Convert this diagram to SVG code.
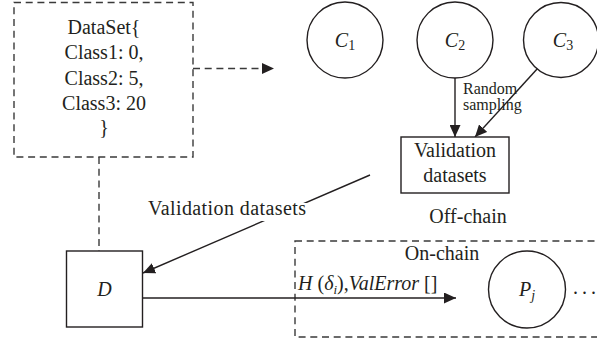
<svg xmlns="http://www.w3.org/2000/svg" width="597" height="347" viewBox="0 0 597 347">
<style>
text{font-family:"Liberation Serif","Times New Roman",serif;fill:#231f20;}
.t{font-size:20px;}
.s{font-size:16px;}
.i{font-style:italic;}
.dash{fill:none;stroke:#3a3a3a;stroke-width:1.4;stroke-dasharray:7 4.7;}
.box{fill:#fff;stroke:#231f20;stroke-width:1.4;}
.ln{fill:none;stroke:#231f20;stroke-width:1.4;}
</style>
<defs>
<marker id="ah" viewBox="0 0 12 11" refX="12" refY="5.5" markerWidth="12" markerHeight="11" markerUnits="userSpaceOnUse" orient="auto">
<path d="M0,0 L12,5.5 L0,11 Z" fill="#231f20"/>
</marker>
</defs>
<g id="onchain">
<rect class="dash" x="295" y="241" width="320" height="96"/>
<text class="t" x="442" y="260" text-anchor="middle">On-chain</text>
</g>
<g id="offchain-label">
<text class="t" x="468" y="223" text-anchor="middle">Off-chain</text>
</g>
<g id="connectors">
<line class="dash" x1="193" y1="68.5" x2="274" y2="68.5" marker-end="url(#ah)"/>
<line class="dash" x1="99" y1="157" x2="99" y2="251"/>
<line class="ln" x1="455" y1="78" x2="455" y2="137" marker-end="url(#ah)"/>
<line class="ln" x1="538" y1="68" x2="475" y2="137" marker-end="url(#ah)"/>
<line class="ln" x1="370" y1="175" x2="143" y2="273" marker-end="url(#ah)"/>
<rect x="146" y="203" width="162" height="18" fill="#fff"/>
<text class="t" x="148" y="215" textLength="158">Validation datasets</text>
<line class="ln" x1="143" y1="298" x2="456" y2="298" marker-end="url(#ah)"/>
<text class="t" x="298" y="290"><tspan class="i">H</tspan> (<tspan class="i">δ</tspan><tspan class="i" font-size="13" dy="4">i</tspan><tspan dy="-4">),</tspan><tspan class="i">ValError</tspan> []</text>
<text class="s" x="463" y="94">Random</text>
<text class="s" x="463" y="110">sampling</text>
</g>
<g id="dataset">
<rect class="dash" x="14" y="2.5" width="179" height="154.5" fill="#fff"/>
<text class="t" x="104" y="34" text-anchor="middle">DataSet{</text>
<text class="t" x="104" y="59" text-anchor="middle">Class1: 0,</text>
<text class="t" x="104" y="85" text-anchor="middle">Class2: 5,</text>
<text class="t" x="104" y="110" text-anchor="middle">Class3: 20</text>
<text class="t" x="104" y="134" text-anchor="middle">}</text>
</g>
<g id="c1">
<circle class="box" cx="345" cy="40" r="38"/>
<text class="t" x="345" y="47" text-anchor="middle"><tspan class="i">C</tspan><tspan font-size="14" dy="3">1</tspan></text>
</g>
<g id="c2">
<circle class="box" cx="455" cy="40" r="38"/>
<text class="t" x="455" y="47" text-anchor="middle"><tspan class="i">C</tspan><tspan font-size="14" dy="3">2</tspan></text>
</g>
<g id="c3">
<circle class="box" cx="561" cy="40" r="37.5"/>
<text class="t" x="563" y="47" text-anchor="middle"><tspan class="i">C</tspan><tspan font-size="14" dy="3">3</tspan></text>
</g>
<g id="validation">
<rect class="box" x="401" y="137" width="108" height="56"/>
<text class="t" x="455" y="157" text-anchor="middle">Validation</text>
<text class="t" x="455" y="182" text-anchor="middle">datasets</text>
</g>
<g id="d">
<rect class="box" x="66.5" y="251" width="76" height="76"/>
<text class="t i" x="104.5" y="296" text-anchor="middle">D</text>
</g>
<g id="pj">
<circle class="box" cx="527" cy="289.5" r="38.5"/>
<text class="t" x="527" y="296" text-anchor="middle"><tspan class="i">P</tspan><tspan class="i" font-size="14" dy="4">j</tspan></text>
<text class="t" x="573 582 591" y="294">...</text>
</g>
</svg>
